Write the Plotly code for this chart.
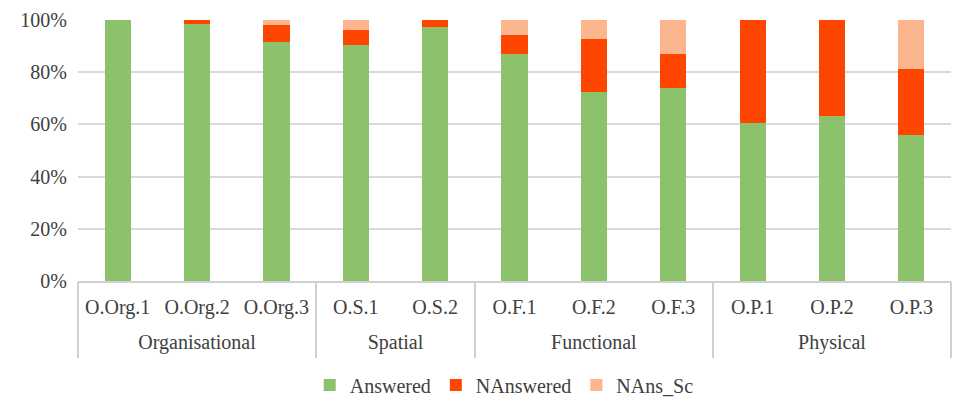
import plotly.graph_objects as go

group_names = ["Organisational", "Spatial", "Functional", "Physical"]
group_sizes = [3, 2, 3, 3]
categories = ["O.Org.1", "O.Org.2", "O.Org.3", "O.S.1", "O.S.2",
              "O.F.1", "O.F.2", "O.F.3", "O.P.1", "O.P.2", "O.P.3"]
answered = [100.0, 98.6, 91.6, 90.4, 97.2, 86.9, 72.6, 73.8, 60.7, 63.4, 55.9]
nanswered = [0.0, 1.4, 6.6, 5.6, 2.8, 7.5, 20.0, 13.1, 39.3, 36.6, 25.3]
nans_sc = [0.0, 0.0, 1.8, 4.0, 0.0, 5.6, 7.4, 13.1, 0.0, 0.0, 18.8]
y_ticks = [0, 20, 40, 60, 80, 100]
y_ticktext = ["0%", "20%", "40%", "60%", "80%", "100%"]

series = [("Answered", answered, "#8cc26c"),
          ("NAnswered", nanswered, "#ff4600"),
          ("NAns_Sc", nans_sc, "#fbb68d")]

# group centres and boundaries in category-index units
bounds = [-0.5]
centres = []
for s in group_sizes:
    centres.append(bounds[-1] + s / 2)
    bounds.append(bounds[-1] + s)
xr = [-0.5, len(categories) - 0.5]

fig = go.Figure()
for name, vals, col in series:
    fig.add_trace(go.Bar(x=list(range(len(categories))), y=vals, name=name,
                         marker=dict(color=col, line=dict(width=0))))

fam = "Liberation Serif"
font = dict(family=fam, size=20, color="#404040")
fig.update_layout(
    barmode="stack", bargap=0.67,
    width=953, height=401,
    margin=dict(l=78, r=2, t=20, b=120),
    paper_bgcolor="white", plot_bgcolor="white",
    font=font,
    showlegend=True,
    legend=dict(orientation="h", xref="container", yref="container",
                x=0.325, xanchor="left", y=0.04, yanchor="middle",
                font=font, traceorder="normal", itemwidth=30),
    xaxis=dict(range=xr, tickvals=list(range(len(categories))), ticktext=categories,
               showline=True, linecolor="#d0d0d0", linewidth=1.5, ticks="",
               showgrid=False, zeroline=False, tickfont=font, automargin=False,
               ticklabelstandoff=7),
    xaxis2=dict(overlaying="x", anchor="y", side="bottom", range=xr,
                tickvals=centres, ticktext=group_names, ticks="", showgrid=False,
                zeroline=False, showline=False, tickfont=font, automargin=False,
                ticklabelstandoff=47),
    xaxis3=dict(overlaying="x", anchor="y", side="bottom", range=xr,
                tickvals=bounds, showticklabels=False, ticks="outside", ticklen=76,
                tickwidth=1.5, tickcolor="#d0d0d0", showgrid=False, zeroline=False,
                showline=False, automargin=False),
    yaxis=dict(range=[0, 100], tickvals=y_ticks, ticktext=y_ticktext,
               showgrid=True, gridcolor="#d9d9d9", gridwidth=1.5,
               zeroline=False, showline=False, tickfont=font, ticks="",
               automargin=False, ticklabelstandoff=10),
)
# invisible traces so the overlay axes are drawn
for ax in ["x2", "x3"]:
    fig.add_trace(go.Scatter(x=[xr[0]], y=[0], xaxis=ax, mode="markers",
                             marker=dict(opacity=0), showlegend=False, hoverinfo="skip"))

fig.write_html("out.html", config={"displayModeBar": False},
               post_script="document.body.style.margin='0px';")
